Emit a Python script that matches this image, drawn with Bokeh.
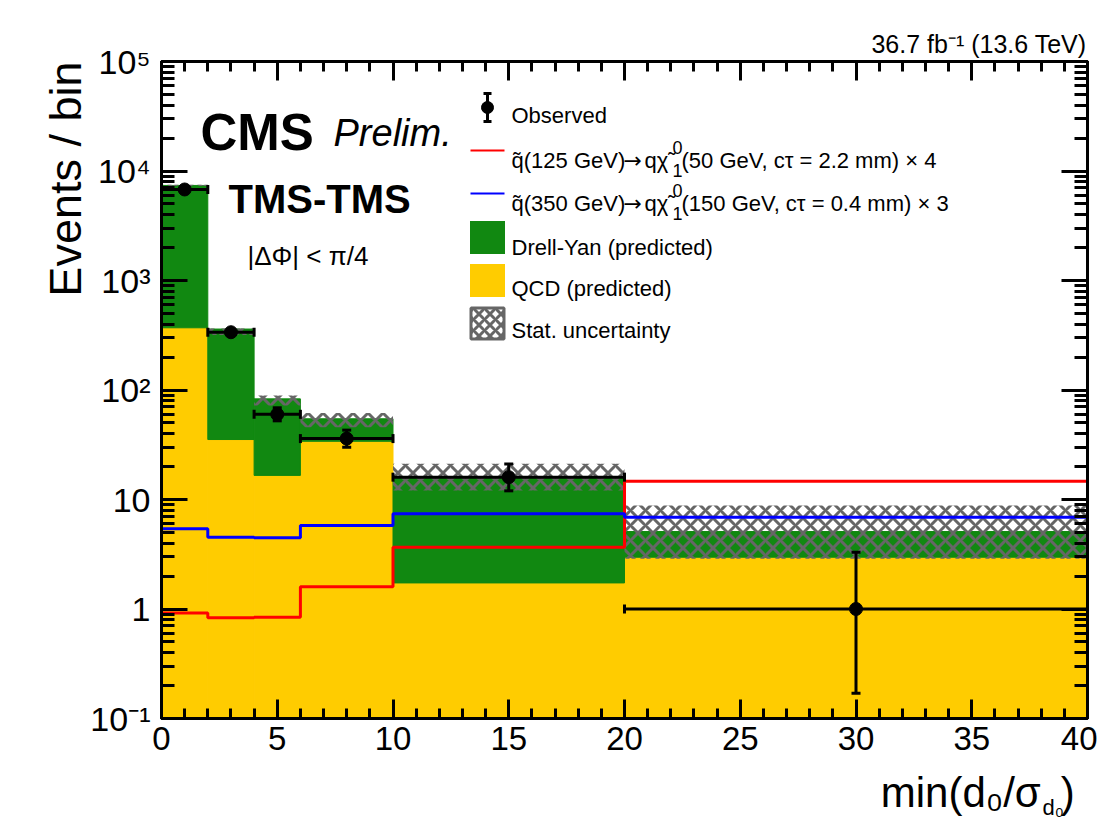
from math import log10, pi

from bokeh.embed import file_html
from bokeh.models import (ColumnDataSource, FixedTicker, Label, LinearAxis, LogAxis,
                          Range1d, TeeHead, Whisker)
from bokeh.plotting import figure
from bokeh.resources import INLINE

# ---------------------------------------------------------------- data
# bins in min(d0 / sigma_d0)
bin_edges = [0, 2, 4, 6, 10, 20, 40]

# predicted backgrounds (events / bin), stacked: QCD at the bottom, Drell-Yan on top
qcd_pred = [370.0, 35.3, 16.6, 34.0, 1.73, 2.97]
dy_pred = [7010.0, 325.0, 66.4, 20.6, 14.3, 2.13]

# statistical uncertainty band on the total prediction
stat_down = [7290.0, 318.0, 72.0, 45.8, 12.1, 2.87]
stat_up = [7470.0, 365.0, 89.0, 61.6, 21.2, 8.8]

# observed data with its error bars
obs = [6780, 337, 60, 36, 16, 1]
obs_down = [6700.0, 319.0, 52.3, 30.0, 12.0, 0.17]
obs_up = [6860.0, 356.0, 68.8, 43.0, 21.1, 3.30]

# signal expectations (already multiplied by the quoted factors)
sig_125 = [0.92, 0.83, 0.84, 1.60, 3.66, 14.7]
sig_350 = [5.40, 4.53, 4.47, 5.79, 7.40, 6.89]

x_ticks = [0, 5, 10, 15, 20, 25, 30, 35, 40]
y_ticks = [0.1, 1.0, 10.0, 100.0, 1000.0, 10000.0, 100000.0]
y_tick_labels = ["10\u207b\u00b9", "1", "10", "10\u00b2", "10\u00b3", "10\u2074", "10\u2075"]

# ---------------------------------------------------------------- style
FONT = "Liberation Sans"
GREEN = "#118811"
YELLOW = "#ffcc00"
HATCH = "#666666"

X_LO, X_HI = 0.0, 40.0
Y_LO, Y_HI = 0.1, 1.0e5
W, H = 1097, 819
F_LEFT, F_TOP, F_RIGHT, F_BOTTOM = 161, 61, 10, 101
F_W, F_H = W - F_LEFT - F_RIGHT, H - F_TOP - F_BOTTOM


def fx(px):
    """canvas column -> x data value"""
    return X_LO + (px - F_LEFT) / F_W * (X_HI - X_LO)


def fy(py):
    """canvas row -> y data value on the log axis"""
    span = log10(Y_HI) - log10(Y_LO)
    return 10 ** (log10(Y_HI) - (py - F_TOP) / F_H * span)


p = figure(width=W, height=H, x_range=Range1d(X_LO, X_HI), y_range=Range1d(Y_LO, Y_HI),
           y_axis_type="log", output_backend="svg", toolbar_location=None,
           min_border_left=F_LEFT, min_border_right=F_RIGHT,
           min_border_top=F_TOP, min_border_bottom=F_BOTTOM)
p.xgrid.visible = False
p.ygrid.visible = False
p.outline_line_color = "black"
p.outline_line_width = 3
p.background_fill_color = "white"
p.border_fill_color = "white"

bottom_axis = p.xaxis[0]
left_axis = p.yaxis[0]

# ---------------------------------------------------------------- histograms
left = bin_edges[:-1]
right = bin_edges[1:]
total = [q + d for q, d in zip(qcd_pred, dy_pred)]
floor = [1e-3] * len(left)

hist = ColumnDataSource(dict(left=left, right=right, floor=floor, qcd=qcd_pred,
                             total=total, lo=stat_down, hi=stat_up))
p.quad(left="left", right="right", bottom="floor", top="qcd", source=hist,
       fill_color=YELLOW, line_color=YELLOW, line_width=1)
p.quad(left="left", right="right", bottom="qcd", top="total", source=hist,
       fill_color=GREEN, line_color=GREEN, line_width=1)
p.quad(left="left", right="right", bottom="lo", top="hi", source=hist,
       fill_color=None, line_color=None, hatch_pattern="x", hatch_color=HATCH,
       hatch_weight=3, hatch_scale=15)

# signal step lines
p.step(x=bin_edges, y=sig_125 + [sig_125[-1]], mode="after", line_color="#ff0000", line_width=3)
p.step(x=bin_edges, y=sig_350 + [sig_350[-1]], mode="after", line_color="#0000ff", line_width=3)

# observed data
centers = [(a + b) / 2 for a, b in zip(left, right)]
data = ColumnDataSource(dict(x=centers, y=obs, lo=obs_down, hi=obs_up, xl=left, xr=right))
p.scatter("x", "y", source=data, size=13, color="black")


def tee(size=9):
    return TeeHead(size=size, line_width=3, line_color="black")


p.add_layout(Whisker(source=data, base="x", lower="lo", upper="hi", dimension="height",
                     line_width=3, line_color="black", upper_head=tee(), lower_head=tee(),
                     level="overlay"))
p.add_layout(Whisker(source=data, base="y", lower="xl", upper="xr", dimension="width",
                     line_width=3, line_color="black", upper_head=tee(), lower_head=tee(),
                     level="overlay"))

# ---------------------------------------------------------------- axes
x_ticker = FixedTicker(ticks=x_ticks, minor_ticks=list(range(0, 41)))
y_ticker = FixedTicker(ticks=y_ticks,
                       minor_ticks=[k * 10.0 ** e for e in range(-1, 5) for k in range(2, 10)])

bottom_axis.ticker = x_ticker
left_axis.ticker = y_ticker
left_axis.major_label_overrides = dict(zip(y_ticks, y_tick_labels))

top_axis = LinearAxis(ticker=x_ticker)
right_axis = LogAxis(ticker=y_ticker)
p.add_layout(top_axis, "above")
p.add_layout(right_axis, "right")

for ax in (bottom_axis, top_axis):
    ax.major_tick_in = 19
    ax.minor_tick_in = 10
for ax in (left_axis, right_axis):
    ax.major_tick_in = 26
    ax.minor_tick_in = 13
for ax in (bottom_axis, left_axis, top_axis, right_axis):
    ax.major_tick_out = 0
    ax.minor_tick_out = 0
    ax.major_tick_line_width = 3
    ax.minor_tick_line_width = 3
    ax.axis_line_width = 3
    ax.major_tick_line_color = "black"
    ax.minor_tick_line_color = "black"
    ax.axis_line_color = "black"
    ax.major_label_text_font = FONT
    ax.major_label_text_color = "black"
for ax in (top_axis, right_axis):
    # tick marks only on the opposite sides
    ax.major_label_text_font_size = "1px"
    ax.major_label_text_alpha = 0.0
    ax.major_label_standoff = 0
bottom_axis.major_label_text_font_size = "33px"
bottom_axis.major_label_standoff = 8
left_axis.major_label_text_font_size = "34px"
left_axis.major_label_standoff = 11


# ---------------------------------------------------------------- texts
def label(px, py, text, size, style="normal", align="left", angle=0.0, place=None,
          font=FONT):
    lab = Label(x=fx(px), y=fy(py), text=text, text_font=font,
                text_font_size=f"{size}px", text_font_style=style,
                text_align=align, text_baseline="alphabetic",
                text_color="black", angle=angle)
    if place is None:
        p.add_layout(lab)
    else:
        # side panels are not clipped to the frame
        p.add_layout(lab, place)


# axis titles
label(65, 61, "Events / bin", 45, align="right", angle=pi / 2, place="left")
label(1086, 792, "min(d\u2080/\u03c3  \u2009)", 42, align="right", place="below")
label(1042, 807, "d\u2080", 22, place="above")

# luminosity / energy
label(1086, 43, "36.7 fb\u207b\u00b9 (13.6 TeV)", 25, align="right", place="above")

# experiment and selection
label(200, 132, "CMS", 51, style="bold")
label(333, 132, "Prelim.", 38, style="italic")
label(228, 198, "TMS-TMS", 40, style="bold")
label(247, 255, "|\u0394\u03a6| < \u03c0/4", 26)

# ---------------------------------------------------------------- legend
LEG_SYM_X = 487
LEG_TXT_X = 511
LEG_TXT = 22

# observed marker
leg_obs = ColumnDataSource(dict(x=[fx(LEG_SYM_X)], y=[fy(107)], lo=[fy(121)], hi=[fy(93)]))
p.scatter("x", "y", source=leg_obs, size=12, color="black")
p.add_layout(Whisker(source=leg_obs, base="x", lower="lo", upper="hi", dimension="height",
                     line_width=3, line_color="black", upper_head=tee(8),
                     lower_head=tee(8), level="overlay"))
label(LEG_TXT_X, 115, "Observed", LEG_TXT)

# signal lines
p.segment(x0=[fx(470), fx(470)], x1=[fx(504), fx(504)], y0=[fy(150), fy(193)],
          y1=[fy(150), fy(193)], line_color=["#ff0000", "#0000ff"], line_width=2)
for row_base, mass_q, mass_x, ctau, factor in ((160, "125", "50", "2.2", "4"),
                                               (203, "350", "150", "0.4", "3")):
    label(LEG_TXT_X, row_base, f"q\u0303({mass_q} GeV)", LEG_TXT)
    label(623, row_base, "\u2192", LEG_TXT, font="DejaVu Sans")
    label(644, row_base, "q\u03c7\u0303", LEG_TXT)
    label(672, row_base - 13, "0", 18)
    label(672, row_base + 10, "1", 18)
    label(681, row_base, f"({mass_x} GeV, c\u03c4 = {ctau} mm) \u00d7 {factor}", LEG_TXT)

# filled boxes
p.rect(x=[fx(LEG_SYM_X), fx(LEG_SYM_X)], y=[fy(237), fy(280)], width=35, height=33,
       width_units="screen", height_units="screen", fill_color=[GREEN, YELLOW],
       line_color=None)
p.rect(x=[fx(LEG_SYM_X)], y=[fy(323)], width=33, height=31, width_units="screen",
       height_units="screen", fill_color=None, line_color=HATCH, line_width=3,
       hatch_pattern="x", hatch_color=HATCH, hatch_weight=3, hatch_scale=11)
label(LEG_TXT_X, 247, "Drell-Yan (predicted)", LEG_TXT)
label(LEG_TXT_X, 288, "QCD (predicted)", LEG_TXT)
label(LEG_TXT_X, 330, "Stat. uncertainty", LEG_TXT)

open("out.html", "w").write(file_html(p, INLINE))
